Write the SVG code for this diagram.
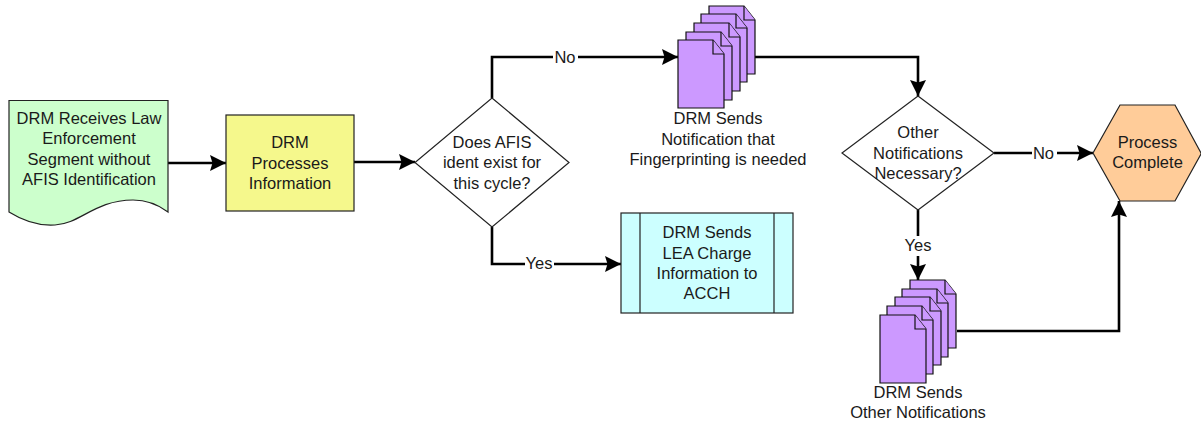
<svg xmlns="http://www.w3.org/2000/svg" width="1201" height="425" viewBox="0 0 1201 425">
<style>
text{font-family:"Liberation Sans",Arial,sans-serif;font-size:16.5px;fill:#1a1a1a;text-anchor:middle}
.s{stroke:#222;stroke-width:1.2}
.p{fill:#cc99ff;stroke:#111;stroke-width:1.2}
.f{fill:#cc99ff;stroke:#111;stroke-width:1.2}
.c{fill:none;stroke:#000;stroke-width:2.6}
.l{fill:#fff;stroke:none}
</style>
<defs>
<marker id="a" viewBox="0 0 16 16" markerUnits="userSpaceOnUse" markerWidth="16" markerHeight="16" refX="16" refY="8" orient="auto"><path d="M0 0L16 8L0 16L2.5 8Z" fill="#000"/></marker>
<g id="page"><path class="p" d="M0 0H35L46 14V68H0Z"/><path class="f" d="M35 0V14H46"/></g>
</defs>
<g id="connectors">
<path class="c" d="M168 163H226" marker-end="url(#a)"/>
<path class="c" d="M354 162H415" marker-end="url(#a)"/>
<path class="c" d="M492 98V57H678" marker-end="url(#a)"/>
<path class="c" d="M492 227V264H621" marker-end="url(#a)"/>
<path class="c" d="M755 57H918V96" marker-end="url(#a)"/>
<path class="c" d="M994 153H1093" marker-end="url(#a)"/>
<path class="c" d="M918 210V280" marker-end="url(#a)"/>
<path class="c" d="M957 331H1119V201" marker-end="url(#a)"/>
</g>
<g id="n1"><path d="M9 100.500H168V212C160 206 150 200 133 200C95 200 80 224 55 225C40 226 25 222 9 212Z" fill="#ccffcc" class="s"/>
<text x="89" y="123.500">DRM Receives Law</text><text x="89" y="144">Enforcement</text><text x="89" y="164.500">Segment without</text><text x="89" y="185">AFIS Identification</text></g>
<g id="n2"><rect x="226" y="115" width="128" height="96" fill="#f5f88c" class="s"/>
<text x="290" y="148">DRM</text><text x="290" y="168.500">Processes</text><text x="290" y="189">Information</text></g>
<g id="n3"><path d="M492 98L569 162.500L492 227L415 162.500Z" fill="#fff" class="s"/>
<text x="492" y="148">Does AFIS</text><text x="492" y="168">ident exist for</text><text x="492" y="188.500">this cycle?</text></g>
<g id="n4"><use href="#page" x="709" y="6"/><use href="#page" x="701" y="14"/><use href="#page" x="694" y="23"/><use href="#page" x="686" y="32"/><use href="#page" x="678" y="40"/>
<text x="718" y="124">DRM Sends</text><text x="718" y="144.500">Notification that</text><text x="718" y="165">Fingerprinting is needed</text></g>
<g id="n5"><rect x="621" y="213" width="172" height="100" fill="#ccffff" class="s"/><path class="s" d="M640 213V313M774 213V313"/>
<text x="707" y="238">DRM Sends</text><text x="707" y="258.500">LEA Charge</text><text x="707" y="279">Information to</text><text x="707" y="299">ACCH</text></g>
<g id="n6"><path d="M918 96L994 153L918 210L842 153Z" fill="#fff" class="s"/>
<text x="918" y="138">Other</text><text x="918" y="159">Notifications</text><text x="918" y="179">Necessary?</text></g>
<g id="n7"><path d="M1120 105H1175L1201 153V154L1175 201H1120L1093 153Z" fill="#ffcc99" class="s"/>
<text x="1147.500" y="148">Process</text><text x="1147.500" y="168">Complete</text></g>
<g id="n8"><use href="#page" x="910" y="280"/><use href="#page" x="902" y="289"/><use href="#page" x="895" y="297"/><use href="#page" x="887" y="306"/><use href="#page" x="880" y="315"/>
<text x="918" y="398">DRM Sends</text><text x="918" y="418">Other Notifications</text></g>
<g id="labels">
<rect class="l" x="553" y="47" width="25" height="20"/><text x="565" y="63">No</text>
<rect class="l" x="525" y="254" width="29" height="20"/><text x="539" y="269">Yes</text>
<rect class="l" x="1032" y="143" width="25" height="20"/><text x="1043.500" y="159">No</text>
<rect class="l" x="903" y="236" width="30" height="20"/><text x="918" y="251">Yes</text>
</g>
</svg>
